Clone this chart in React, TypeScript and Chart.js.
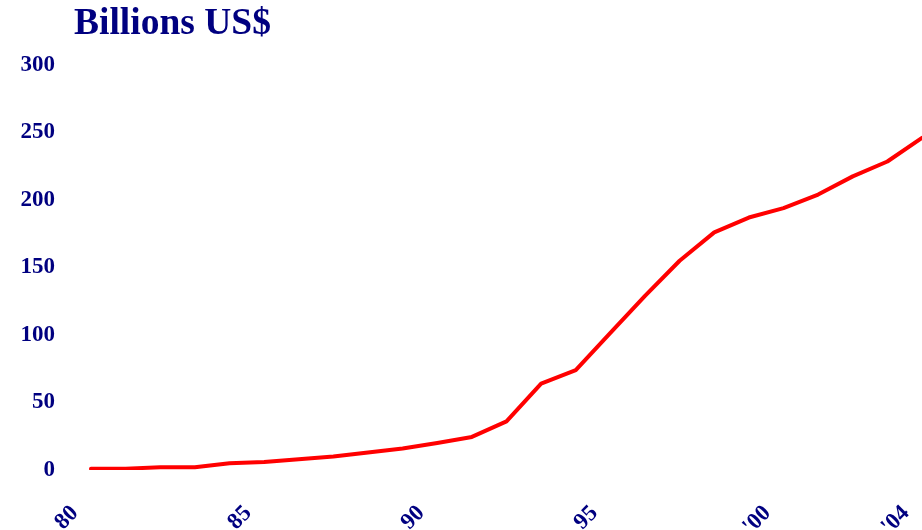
import React, { useEffect, useRef } from "react";
import { Chart, registerables } from "chart.js";

Chart.register(...registerables);

const years = [
  "1980", "1981", "1982", "1983", "1984", "1985", "1986", "1987", "1988", "1989",
  "1990", "1991", "1992", "1993", "1994", "1995", "1996", "1997", "1998", "1999",
  "2000", "2001", "2002", "2003", "2004",
];
const values = [
  1, 1, 2, 2, 5, 6, 8, 10, 13, 16,
  20, 24.5, 36, 64, 74, 101.5, 129, 155, 176, 187,
  194, 204, 217.5, 228.5, 246,
];
const tickYears = ["1980", "1985", "1990", "1995", "2000", "2004"];
const tickLabels = ["80", "85", "90", "95", "'00", "'04"];
const yTicks = [0, 50, 100, 150, 200, 250, 300];
const titleText = "Billions US$";

const NAVY = "#000080";
const FONT = "'Liberation Serif', 'Times New Roman', serif";

export default function App() {
  const ref = useRef<HTMLCanvasElement | null>(null);

  useEffect(() => {
    if (!ref.current) return;
    const chart = new Chart(ref.current, {
      type: "line",
      data: {
        labels: years,
        datasets: [
          {
            data: values,
            borderColor: "#ff0000",
            borderWidth: 4,
            pointRadius: 0,
            tension: 0,
            fill: false,
            borderJoinStyle: "round",
            borderCapStyle: "round",
          },
        ],
      },
      options: {
        animation: false,
        responsive: false,
        maintainAspectRatio: false,
        layout: { padding: { top: 65, right: 0, left: 0, bottom: 0 } },
        plugins: {
          legend: { display: false },
          tooltip: { enabled: false },
          title: { display: false },
        },
        scales: {
          x: {
            type: "category",
            offset: false,
            grid: { display: false },
            border: { display: false },
            ticks: {
              autoSkip: false,
              maxRotation: 45,
              minRotation: 45,
              padding: 22,
              labelOffset: -16,
              color: NAVY,
              font: { family: FONT, size: 23, weight: "bold" },
              callback: function (_v: any, i: number) {
                const k = tickYears.indexOf(years[i]);
                return k >= 0 ? tickLabels[k] : "";
              },
            },
            afterFit: (s: any) => {
              s.height = 60;
              s.paddingRight = 0;
              s.paddingLeft = 0;
            },
          },
          y: {
            min: 0,
            max: 300,
            grid: { display: false },
            border: { display: false },
            afterBuildTicks: (s: any) => {
              s.ticks = yTicks.map((v) => ({ value: v }));
            },
            ticks: {
              padding: 28,
              color: NAVY,
              font: { family: FONT, size: 23, weight: "bold" },
            },
            afterFit: (s: any) => {
              s.width = 91;
            },
          },
        },
      },
    });
    return () => chart.destroy();
  }, []);

  return (
    <div style={{ position: "fixed", left: 0, top: 0, width: 922, height: 530, background: "#fff" }}>
      <div
        style={{
          position: "absolute",
          left: 74,
          top: 3,
          fontFamily: FONT,
          fontWeight: "bold",
          fontSize: 37.5,
          lineHeight: "37px",
          color: NAVY,
          whiteSpace: "nowrap",
        }}
      >
        {titleText}
      </div>
      <canvas ref={ref} width={922} height={530} style={{ display: "block" }} />
    </div>
  );
}
